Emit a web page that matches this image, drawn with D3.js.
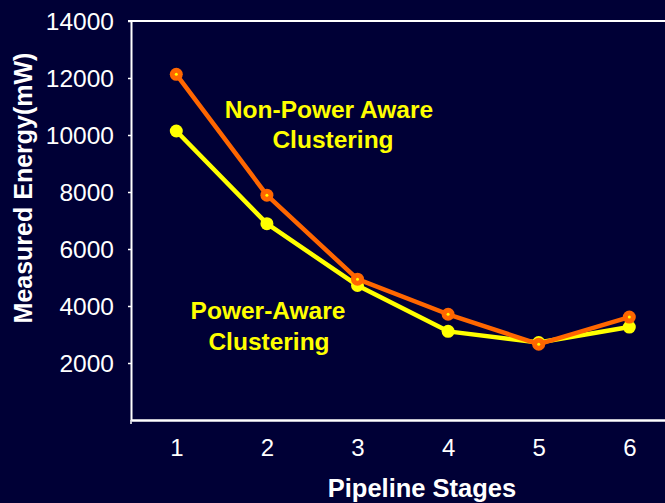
<!DOCTYPE html>
<html>
<head>
<meta charset="utf-8">
<script src="https://cdn.jsdelivr.net/npm/d3@7/dist/d3.min.js"></script>
<style>
  html, body { margin: 0; padding: 0; background: #000036; }
  svg { display: block; }
</style>
</head>
<body>
<svg id="chart" width="665" height="503"></svg>
<script>
// data
const stages = [1, 2, 3, 4, 5, 6];
const nonPowerAware = [12130, 7890, 4940, 3710, 2660, 3610];
const powerAware = [10140, 6890, 4720, 3110, 2720, 3260];
const yTicks = [2000, 4000, 6000, 8000, 10000, 12000, 14000];

const width = 665;
const height = 503;
const font = '"Liberation Sans", Arial, sans-serif';

const svg = d3.select('#chart');

const x = d3.scaleLinear().domain([0.5, 6.5]).range([131, 674.6]);
const y = d3.scaleLinear().domain([0, 14000]).range([420, 21]);

// frame top line
svg.append('line')
  .attr('x1', 128).attr('x2', width)
  .attr('y1', y(14000)).attr('y2', y(14000))
  .attr('stroke', '#fff').attr('stroke-width', 2);

// y axis
const yAxis = svg.append('g')
  .attr('transform', 'translate(131,0)')
  .call(d3.axisLeft(y).tickValues(yTicks).tickFormat(d3.format('d')).tickSize(3).tickPadding(14).tickSizeOuter(0));
yAxis.select('.domain').attr('stroke', '#fff').attr('stroke-width', 2);
yAxis.selectAll('.tick line').attr('stroke', '#fff').attr('stroke-width', 1.5);
yAxis.selectAll('.tick text')
  .attr('fill', '#fff')
  .attr('dy', '0.36em')
  .style('font-family', font)
  .style('font-size', '24.5px');

// x axis
const xAxis = svg.append('g')
  .attr('transform', 'translate(0,420)')
  .call(d3.axisBottom(x).tickValues(stages).tickFormat(d3.format('d')).tickSize(0).tickPadding(19).tickSizeOuter(0));
xAxis.select('.domain').attr('stroke', '#fff').attr('stroke-width', 2.5);
xAxis.selectAll('.tick text')
  .attr('fill', '#fff')
  .style('font-family', font)
  .style('font-size', '24px');
svg.append('line')
  .attr('x1', 131).attr('x2', 131).attr('y1', 420).attr('y2', 424)
  .attr('stroke', '#fff').attr('stroke-width', 1.5);

// axis titles
svg.append('text')
  .attr('x', 422).attr('y', 497)
  .attr('text-anchor', 'middle')
  .attr('fill', '#fff')
  .style('font-family', font).style('font-weight', 'bold').style('font-size', '25.5px')
  .text('Pipeline Stages');

svg.append('text')
  .attr('transform', 'translate(32,188) rotate(-90)')
  .attr('text-anchor', 'middle')
  .attr('fill', '#fff')
  .style('font-family', font).style('font-weight', 'bold').style('font-size', '25px')
  .text('Measured Energy(mW)');

// lines
const line = d3.line().x((d, i) => x(stages[i])).y(d => y(d));

function drawSeries (values, color, dotColor) {
  svg.append('path')
    .datum(values)
    .attr('d', line)
    .attr('fill', 'none')
    .attr('stroke', color)
    .attr('stroke-width', 4.5)
    .attr('stroke-linejoin', 'round');
  svg.selectAll(null)
    .data(values)
    .enter().append('circle')
    .attr('cx', (d, i) => x(stages[i]))
    .attr('cy', d => y(d))
    .attr('r', 6.5)
    .attr('fill', color);
  if (dotColor) {
    svg.selectAll(null)
      .data(values)
      .enter().append('circle')
      .attr('cx', (d, i) => x(stages[i]))
      .attr('cy', d => y(d))
      .attr('r', 1.5)
      .attr('fill', dotColor);
  }
}

drawSeries(powerAware, '#ffff00', null);
drawSeries(nonPowerAware, '#ff6600', '#ffff00');

// annotations
const notes = [
  { text: 'Non-Power Aware', x: 329, y: 118 },
  { text: 'Clustering', x: 333, y: 148 },
  { text: 'Power-Aware', x: 268, y: 319 },
  { text: 'Clustering', x: 269, y: 350 }
];
svg.selectAll(null)
  .data(notes)
  .enter().append('text')
  .attr('x', d => d.x).attr('y', d => d.y)
  .attr('text-anchor', 'middle')
  .attr('fill', '#ffff00')
  .style('font-family', font).style('font-weight', 'bold').style('font-size', '24.5px')
  .text(d => d.text);
</script>
</body>
</html>
